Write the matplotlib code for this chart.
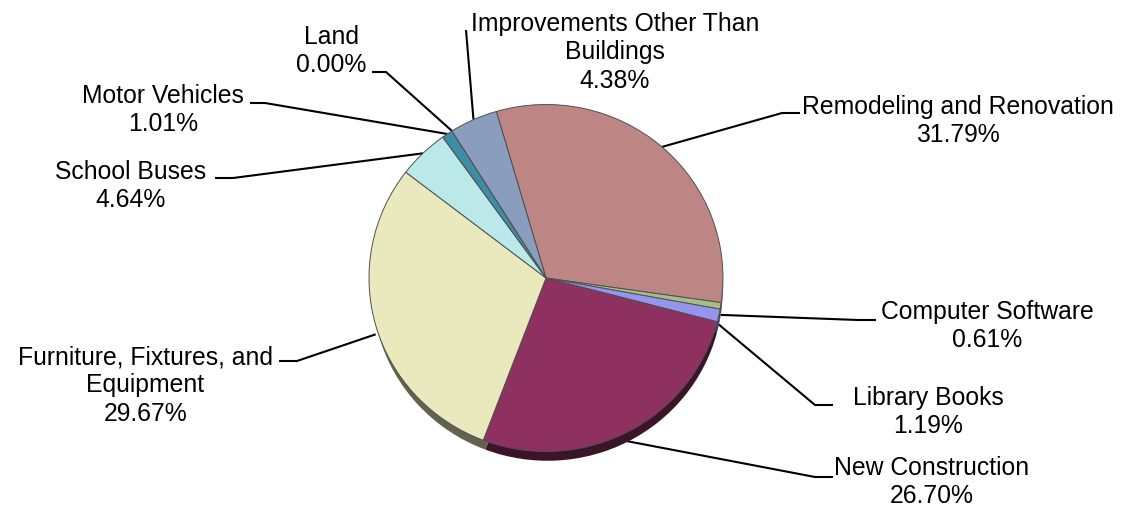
import numpy as np
import matplotlib
matplotlib.use("Agg")
import matplotlib.pyplot as plt
from matplotlib.colors import to_rgb

W, H = 1121, 511

categories = ["Remodeling and Renovation", "Computer Software", "Library Books",
              "New Construction", "Furniture, Fixtures, and\nEquipment", "School Buses",
              "Motor Vehicles", "Land", "Improvements Other Than\nBuildings"]
shares = [31.79, 0.61, 1.19, 26.70, 29.67, 4.64, 1.01, 0.00, 4.38]
colors = ["#BE8585", "#A6BD86", "#9595EF", "#8E3060", "#EAE9BD",
          "#BBE9E9", "#3E8CA6", "#3E8CA6", "#8A9DBE"]

# pie geometry in pixels
cx, cy = 546, 278
rx, ry = 177, 173.5
shadow_dx, shadow_dy = 1.5, 11
shadow_scale = 0.99
start_cw = -16.3  # clockwise from 12 o'clock
leader_drop = 9   # lower-half leaders attach to the pie's thick edge

# label centre x and top y for each slice
label_pos = [(957.5, 94), (987, 299), (928, 385), (932, 455), (145.5, 344),
             (131, 159), (163, 83), (331, 24), (615, 11)]
# leader elbow and end beside the label
elbows = [((782, 113), (800, 113)), ((858, 320), (876, 320)), ((815, 405), (833, 405)),
          ((815, 477), (833, 477)), ((297, 361), (279, 361)), ((233, 178), (215, 178)),
          ((265, 103), (250, 103)), ((386, 72), (372, 72)), ((466, 30), (466, 30))]

fig = plt.figure(figsize=(W / 100, H / 100), dpi=100)
font = "Liberation Sans"

# pixel-coordinate layer holding leaders and labels
ax = fig.add_axes([0, 0, 1, 1])
ax.set_xlim(0, W)
ax.set_ylim(H, 0)
ax.axis("off")

# pie layer: data units are pie radii, so a unit pie fills the ellipse
pie_ax = fig.add_axes([0, 0, 1, 1])
pie_ax.patch.set_visible(False)


def darken(c, f=0.42):
    return tuple(v * f for v in to_rgb(c))


pie_ax.pie(shares, colors=[darken(c) for c in colors], startangle=90 - start_cw,
           counterclock=False, radius=shadow_scale,
           center=(shadow_dx / rx, -shadow_dy / ry),
           wedgeprops=dict(edgecolor="none", linewidth=0))
pie_ax.pie(shares, colors=colors, startangle=90 - start_cw, counterclock=False,
           radius=1, center=(0, 0),
           wedgeprops=dict(edgecolor="#505050", linewidth=0.7))
pie_ax.set_aspect("auto")
pie_ax.set_xlim(-cx / rx, (W - cx) / rx)
pie_ax.set_ylim(-(H - cy) / ry, cy / ry)
pie_ax.axis("off")

# leaders start on the rim at each slice's middle angle
acc = 0.0
total = sum(shares)
for name, v, (tx, ty), (e1, e2) in zip(categories, shares, label_pos, elbows):
    mid = np.radians(start_cw + (acc + v / 2) / total * 360)
    acc += v
    x0 = cx + rx * np.sin(mid)
    y0 = cy - ry * np.cos(mid)
    if np.cos(mid) < 0:
        y0 += leader_drop
    ax.plot([x0, e1[0], e2[0]], [y0, e1[1], e2[1]],
            color="black", lw=1.5, solid_capstyle="butt", solid_joinstyle="miter")
    ax.text(tx, ty + 1, f"{name}\n{v:.2f}%", ha="center", va="top", family=font,
            fontsize=17.8, linespacing=1.225, color="black")

fig.savefig("out.png", dpi=100)
